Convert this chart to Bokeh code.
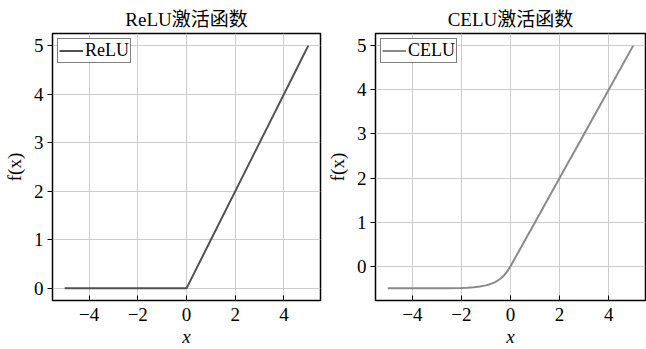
from bokeh.plotting import figure
from bokeh.layouts import row
from bokeh.models import FixedTicker, Range1d, Legend, LegendItem
from bokeh.embed import file_html
from bokeh.resources import INLINE

# Data
relu_x = [-5.0, 0.0, 5.0]
relu_y = [0.0, 0.0, 5.0]

celu_x = [-5.0, -4.0, -3.0, -2.5, -2.0, -1.75, -1.5, -1.25, -1.0, -0.875, -0.75, -0.625,
          -0.5, -0.375, -0.25, -0.125, 0.0, 1.0, 2.0, 3.0, 4.0, 5.0]
celu_y = [-0.50, -0.50, -0.50, -0.497, -0.491, -0.485, -0.475, -0.459, -0.432, -0.413,
          -0.388, -0.357, -0.316, -0.264, -0.197, -0.110, 0.0, 1.0, 2.0, 3.0, 4.0, 5.0]

x_ticks = [-4, -2, 0, 2, 4]
relu_y_ticks = [0, 1, 2, 3, 4, 5]
celu_y_ticks = [0, 1, 2, 3, 4, 5]

FONT = "'Liberation Serif', 'Noto Sans CJK SC'"


def make_plot(title, xs, ys, color, label, yr, yticks, width, bl, br):
    p = figure(width=width, height=349, output_backend="svg", toolbar_location=None,
               x_range=Range1d(-5.5, 5.5), y_range=Range1d(*yr),
               min_border_left=bl, min_border_right=br, min_border_top=33,
               min_border_bottom=47)
    p.title.text = title
    p.title.align = "center"
    p.title.text_font = FONT
    p.title.text_font_size = "19px"
    p.title.text_font_style = "normal"
    p.title.text_color = "black"
    p.title.offset = 0
    p.title.standoff = 8

    r = p.line(xs, ys, line_color=color, line_width=2)

    p.outline_line_color = "black"
    p.outline_line_width = 1.5
    p.outline_line_alpha = 1
    p.background_fill_color = "white"
    p.border_fill_color = "white"

    p.xaxis.ticker = FixedTicker(ticks=x_ticks)
    p.yaxis.ticker = FixedTicker(ticks=yticks)
    p.xgrid.ticker = FixedTicker(ticks=x_ticks)
    p.ygrid.ticker = FixedTicker(ticks=yticks)
    p.grid.grid_line_color = "#cccccc"
    p.grid.grid_line_width = 1

    for ax in (p.xaxis, p.yaxis):
        ax.axis_line_color = None
        ax.minor_tick_line_color = None
        ax.major_tick_line_color = "black"
        ax.major_tick_line_width = 1
        ax.major_label_text_font = FONT
        ax.major_label_text_font_size = "19px"
        ax.major_label_text_color = "black"
        ax.axis_label_text_font = FONT
        ax.axis_label_text_font_size = "19px"
        ax.axis_label_text_color = "black"
    p.xaxis.major_tick_in = 5
    p.xaxis.major_tick_out = 0
    p.yaxis.major_tick_in = 0
    p.yaxis.major_tick_out = 5
    p.xaxis.major_label_standoff = 7
    p.yaxis.major_label_standoff = 4
    p.xaxis.axis_label = "x"
    p.xaxis.axis_label_text_font_style = "italic"
    p.xaxis.axis_label_standoff = 2
    p.yaxis.axis_label = "f(x)"
    p.yaxis.axis_label_text_font_style = "normal"
    p.yaxis.axis_label_standoff = 6

    leg = Legend(items=[LegendItem(label=label, renderers=[r])], location="top_left")
    leg.label_text_font = FONT
    leg.label_text_font_size = "18px"
    leg.label_text_color = "black"
    leg.border_line_color = "black"
    leg.border_line_width = 1.5
    leg.margin = 5
    leg.padding = 1
    leg.spacing = 0
    leg.glyph_width = 24
    leg.glyph_height = 19
    leg.label_standoff = 2
    leg.label_height = 19
    leg.background_fill_alpha = 1
    p.add_layout(leg)
    return p


p1 = make_plot("ReLU激活函数", relu_x, relu_y, "#505050", "ReLU",
               (-0.25, 5.25), relu_y_ticks, 323, 47, 3)
p2 = make_plot("CELU激活函数", celu_x, celu_y, "#8a8a8a", "CELU",
               (-0.775, 5.275), celu_y_ticks, 323, 50, 1)

layout = row(p1, p2)
open("out.html", "w").write(file_html(layout, INLINE))
